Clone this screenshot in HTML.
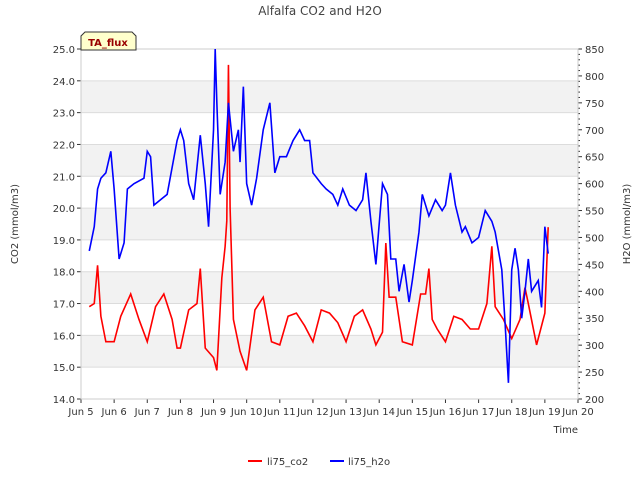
<!DOCTYPE html>
<html><head><meta charset="utf-8"><style>
body{margin:0;background:#fff;font-family:"Liberation Sans","DejaVu Sans",sans-serif}
svg text{font-family:"DejaVu Sans","Liberation Sans",sans-serif}
</style></head><body>
<svg id="c" width="640" height="480" xmlns="http://www.w3.org/2000/svg"></svg>
<script>
const xTicks=["Jun 5","Jun 6","Jun 7","Jun 8","Jun 9","Jun 10","Jun 11","Jun 12","Jun 13","Jun 14","Jun 15","Jun 16","Jun 17","Jun 18","Jun 19","Jun 20"];
const leftTicks=[14,15,16,17,18,19,20,21,22,23,24,25];
const rightTicks=[200,250,300,350,400,450,500,550,600,650,700,750,800,850];
const co2Days=[5.25,5.4,5.5,5.6,5.75,6.0,6.2,6.5,6.75,7.0,7.25,7.5,7.75,7.9,8.0,8.25,8.5,8.6,8.75,9.0,9.1,9.25,9.35,9.4,9.45,9.5,9.6,9.8,10.0,10.25,10.5,10.75,11.0,11.25,11.5,11.75,12.0,12.25,12.5,12.75,13.0,13.25,13.5,13.75,13.9,14.1,14.2,14.3,14.5,14.7,15.0,15.25,15.4,15.5,15.6,15.75,16.0,16.25,16.5,16.75,17.0,17.25,17.4,17.5,17.75,18.0,18.25,18.4,18.5,18.75,19.0,19.1];
const co2Vals=[16.9,17.0,18.2,16.6,15.8,15.8,16.6,17.3,16.5,15.8,16.9,17.3,16.5,15.6,15.6,16.8,17.0,18.1,15.6,15.3,14.9,17.8,18.8,19.6,24.5,20.0,16.5,15.5,14.9,16.8,17.2,15.8,15.7,16.6,16.7,16.3,15.8,16.8,16.7,16.4,15.8,16.6,16.8,16.2,15.7,16.1,18.9,17.2,17.2,15.8,15.7,17.3,17.3,18.1,16.5,16.2,15.8,16.6,16.5,16.2,16.2,17.0,18.8,16.9,16.5,15.9,16.5,17.5,17.0,15.7,16.7,19.4];
const h2oDays=[5.25,5.4,5.5,5.6,5.75,5.9,6.0,6.15,6.3,6.4,6.6,6.9,7.0,7.1,7.2,7.4,7.6,7.9,8.0,8.1,8.25,8.4,8.6,8.75,8.85,9.0,9.05,9.1,9.2,9.35,9.45,9.6,9.75,9.8,9.9,10.0,10.15,10.3,10.5,10.7,10.85,11.0,11.2,11.4,11.6,11.75,11.9,12.0,12.25,12.4,12.6,12.75,12.9,13.1,13.3,13.5,13.6,13.75,13.9,14.1,14.25,14.35,14.5,14.6,14.75,14.9,15.0,15.2,15.3,15.5,15.7,15.9,16.0,16.15,16.3,16.5,16.6,16.8,17.0,17.2,17.4,17.5,17.7,17.8,17.9,18.0,18.1,18.2,18.3,18.4,18.5,18.6,18.8,18.9,19.0,19.1];
const h2oVals=[475,520,590,610,620,660,590,460,490,590,600,610,660,650,560,570,580,680,700,680,600,570,690,600,520,700,850,750,580,640,750,660,700,640,780,600,560,610,700,750,620,650,650,680,700,680,680,620,600,590,580,560,590,560,550,570,620,530,450,600,580,460,460,400,450,380,420,510,580,540,570,550,560,620,560,510,520,490,500,550,530,510,440,340,230,440,480,440,350,400,460,400,420,370,520,470];
const L=81,R=578,T=49,B=399;
const X=d=>L+(d-5)*(R-L)/15;
const YL=v=>B-(v-14)*(B-T)/11;
const YR=v=>B-(v-200)*(B-T)/650;
const svg=document.getElementById('c');const NS='http://www.w3.org/2000/svg';
function mk(t,a,txt){const e=document.createElementNS(NS,t);for(const k in a)e.setAttribute(k,a[k]);if(txt!=null)e.textContent=txt;svg.appendChild(e);return e;}
let e;
e=mk('rect',{x:L,y:T,width:R-L,height:B-T,fill:'#fff'});

for(let v=15;v<25;v+=2){e=mk('rect',{x:L,y:YL(v+1),width:R-L,height:YL(v)-YL(v+1),fill:'#f2f2f2'});
}
leftTicks.forEach(v=>{e=mk('line',{x1:L,x2:R,y1:YL(v),y2:YL(v),stroke:'#dcdcdc','stroke-width':1});

e=mk('line',{x1:L-4,x2:L,y1:YL(v),y2:YL(v),stroke:'#333'});

e=mk('text',{x:L-6,y:YL(v)+4,'text-anchor':'end','font-size':10,fill:'#333'},v.toFixed(1));
});
for(let v=200;v<=850;v+=10){const maj=v%50===0;e=mk('line',{x1:R,x2:R+(maj?4:2),y1:YR(v),y2:YR(v),stroke:'#333'});
}
rightTicks.forEach(v=>{e=mk('text',{x:R+7,y:YR(v)+4,'font-size':10,fill:'#333'},v);
});
xTicks.forEach((t,i)=>{e=mk('line',{x1:X(5+i),x2:X(5+i),y1:B,y2:B+4,stroke:'#333'});

e=mk('text',{x:X(5+i),y:B+16,'text-anchor':'middle','font-size':10,fill:'#333'},t);
});
e=mk('rect',{x:L,y:T,width:R-L,height:B-T,fill:'none',stroke:'#ccc'});

e=mk('polyline',{points:co2Days.map((d,i)=>X(d)+','+YL(co2Vals[i])).join(' '),fill:'none',stroke:'#ff0000','stroke-width':1.6});

e=mk('polyline',{points:h2oDays.map((d,i)=>X(d)+','+YR(h2oVals[i])).join(' '),fill:'none',stroke:'#0000ff','stroke-width':1.6});

e=mk('text',{x:320,y:15,'text-anchor':'middle','font-size':12,fill:'#444'},'Alfalfa CO2 and H2O');

e=mk('text',{x:578,y:433,'text-anchor':'end','font-size':10,fill:'#333'},'Time');

e=mk('text',{x:18,y:224,'text-anchor':'middle','font-size':10,fill:'#333',transform:'rotate(-90 18 224)'},'CO2 (mmol/m3)');

e=mk('text',{x:630,y:224,'text-anchor':'middle','font-size':10,fill:'#333',transform:'rotate(-90 630 224)'},'H2O (mmol/m3)');

e=mk('path',{d:'M81,50 L81,36 L85,32 L132,32 L136,36 L136,50 Z',fill:'#ffffcc',stroke:'#333'});

e=mk('text',{x:108,y:46,'text-anchor':'middle','font-size':10,'font-weight':'bold',fill:'#990000'},'TA_flux');

e=mk('line',{x1:248,x2:262,y1:461,y2:461,stroke:'#ff0000','stroke-width':2});

e=mk('text',{x:267,y:465,'font-size':10,fill:'#333'},'li75_co2');

e=mk('line',{x1:330,x2:344,y1:461,y2:461,stroke:'#0000ff','stroke-width':2});

e=mk('text',{x:348,y:465,'font-size':10,fill:'#333'},'li75_h2o');

</script>
</body></html>
